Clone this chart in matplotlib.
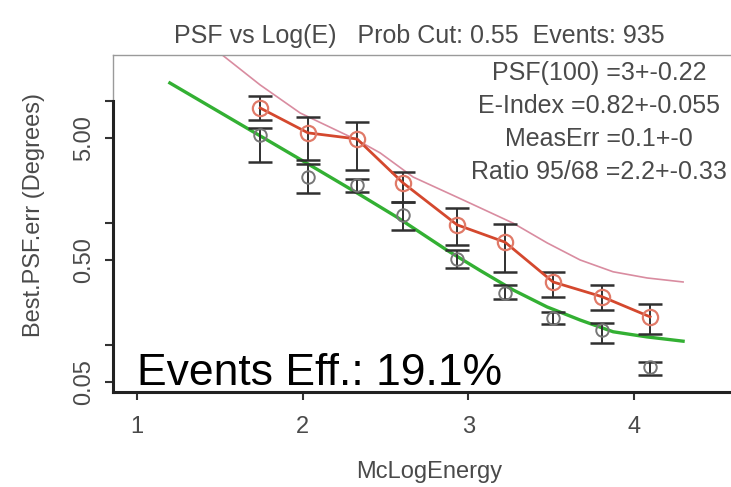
import matplotlib
matplotlib.use("Agg")
import matplotlib.pyplot as plt
from matplotlib.ticker import NullLocator

# data
energy = [1.744, 2.033, 2.329, 2.606, 2.932, 3.221, 3.511, 3.806, 4.096]
psf95 = [8.8, 5.5, 4.9, 2.14, 0.97, 0.70, 0.33, 0.25, 0.171]
psf95_lo = [7.0, 3.3, 2.73, 1.49, 0.66, 0.40, 0.25, 0.195, 0.124]
psf95_hi = [11.0, 7.4, 6.76, 2.63, 1.33, 0.99, 0.40, 0.31, 0.218]
psf68 = [5.3, 2.4, 2.06, 1.17, 0.51, 0.27, 0.167, 0.133, 0.066]
psf68_lo = [3.2, 1.77, 1.80, 0.88, 0.43, 0.24, 0.149, 0.104, 0.057]
psf68_hi = [6.0, 3.06, 2.31, 1.49, 0.60, 0.31, 0.187, 0.152, 0.073]

fit68_x = [1.20, 1.744, 2.033, 2.329, 2.570, 2.872, 3.071, 3.270, 3.475, 3.674, 3.873, 4.078, 4.295]
fit68_y = [14.1, 5.2, 3.06, 1.77, 1.12, 0.60, 0.41, 0.284, 0.206, 0.161, 0.129, 0.117, 0.108]
fit95_x = [1.45, 1.516, 1.744, 1.986, 2.329, 2.468, 2.667, 2.969, 3.271, 3.475, 3.674, 3.873, 4.078, 4.295]
fit95_y = [28, 23.9, 13.6, 8.0, 4.8, 3.77, 2.39, 1.55, 1.0, 0.69, 0.5, 0.40, 0.356, 0.33]

x_ticks = [1, 2, 3, 4]
y_ticks = [0.05, 0.1, 0.5, 1, 5, 10]
y_tick_labels = ["0.05", "", "0.50", "", "5.00", ""]

title = "PSF vs Log(E)   Prob Cut: 0.55  Events: 935"
fit_lines = ["PSF(100) =3+-0.22", "E-Index =0.82+-0.055", "MeasErr =0.1+-0", "Ratio 95/68 =2.2+-0.33"]
eff_text = "Events Eff.: 19.1%"

W, H = 731, 487
plt.rcParams['font.family'] = ['Liberation Sans', 'DejaVu Sans']
txt = '#4a4a4a'

fig = plt.figure(figsize=(W / 100, H / 100), dpi=100, facecolor='white')
ax = fig.add_axes([113 / W, (H - 392) / H, (W - 113) / W, (392 - 55) / H])

ax.set_yscale('log')
ax.set_xlim(0.857, 4.584)
ax.set_ylim(0.0414, 23.9)

ax.plot(fit95_x, fit95_y, color='#d98ca0', lw=1.2)
ax.plot(fit68_x, fit68_y, color='#33b033', lw=2.4)

err_kw = dict(fmt='none', ecolor='#303030', elinewidth=1.4, capsize=8.5, capthick=1.8)
ax.errorbar(energy, psf68, yerr=[[v - l for v, l in zip(psf68, psf68_lo)],
                                 [h - v for v, h in zip(psf68, psf68_hi)]], **err_kw)
ax.errorbar(energy, psf95, yerr=[[v - l for v, l in zip(psf95, psf95_lo)],
                                 [h - v for v, h in zip(psf95, psf95_hi)]], **err_kw)

ax.plot(energy, psf68, 'o', ms=9, mfc='none', mec='#777777', mew=1.4)
ax.plot(energy, psf95, '-', color='#d4482e', lw=2)
ax.plot(energy, psf95, 'o', ms=11, mfc='none', mec='#e07a68', mew=1.6)

ax.yaxis.set_minor_locator(NullLocator())
ax.set_xticks(x_ticks)
ax.set_xticklabels([str(t) for t in x_ticks])
ax.set_yticks(y_ticks)
ax.set_yticklabels(y_tick_labels)
ax.tick_params(axis='both', direction='out', length=6, width=1.5, color='#333333',
               labelsize=17, labelcolor=txt)
ax.tick_params(axis='x', pad=11)
ax.tick_params(axis='y', pad=7)
for lab in ax.get_yticklabels():
    lab.set_rotation(90)
    lab.set_va('center')

ax.spines['right'].set_visible(False)
ax.spines['top'].set_color('#9a9a9a')
ax.spines['top'].set_linewidth(1)
ax.spines['bottom'].set_color('#222222')
ax.spines['bottom'].set_linewidth(2.2)
ax.spines['left'].set_color('#222222')
ax.spines['left'].set_linewidth(2.2)
ax.spines['left'].set_bounds(0.0414, 10)
ax.plot([0, 0], [10, 23.9], transform=ax.get_yaxis_transform(), color='#9a9a9a',
        lw=1, clip_on=False)

fig.text(419 / W, (H - 36) / H, title, ha='center', va='center', fontsize=18, color=txt)
for i, line in enumerate(fit_lines):
    fig.text(599 / W, (H - 73 - 33 * i) / H, line, ha='center', va='center',
             fontsize=18, color=txt)
fig.text(137 / W, (H - 385) / H, eff_text, ha='left', va='baseline', fontsize=32,
         color='black')
fig.text(429 / W, (H - 472) / H, "McLogEnergy", ha='center', va='center', fontsize=17,
         color=txt)
fig.text(34 / W, (H - 215) / H, "Best.PSF.err (Degrees)", ha='center', va='center',
         rotation=90, fontsize=17, color=txt)

fig.savefig('out.png', dpi=100, facecolor='white')
